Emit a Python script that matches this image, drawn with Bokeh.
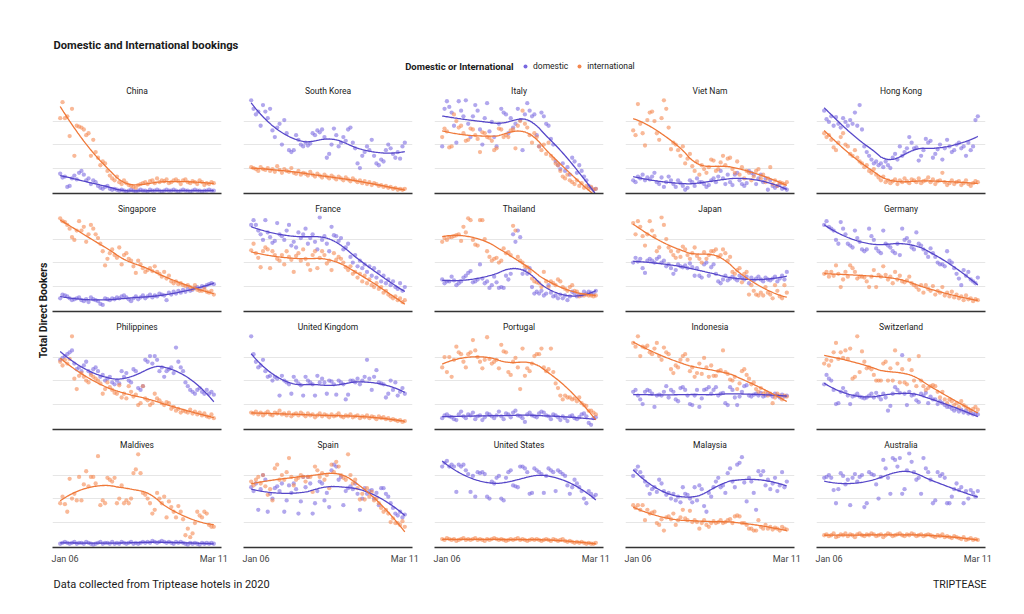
import numpy as np
import pandas as pd
from bokeh.plotting import figure
from bokeh.layouts import column, row
from bokeh.models import Range1d, FixedTicker, Label, Legend, LegendItem
from bokeh.embed import file_html
from bokeh.resources import INLINE

# ---------------- data ----------------
DATES = pd.date_range("2020-01-06", "2020-03-11", freq="D")
TICK_LABELS = ["Jan 06", "Mar 11"]
SERIES_NAMES = ["domestic", "international"]
COUNTRIES = ["China", "South Korea", "Italy", "Viet Nam", "Hong Kong",
             "Singapore", "France", "Thailand", "Japan", "Germany",
             "Philippines", "United Kingdom", "Portugal", "Indonesia", "Switzerland",
             "Maldives", "Spain", "United States", "Malaysia", "Australia"]

CHINA_DOM = [19,15,16,5,6,14,17,13,20,22,18,12,14,8,12,10,6,4,3,5,6,3,2,3,2,1,2,1,0,1,2,1,0,1,2,1,1,0,2,1,1,2,1,0,1,2,1,1,2,1,0,1,2,1,1,0,1,2,1,1,0,1,1,2,1,1]
CHINA_INT = [78,95,78,80,59,88,38,70,69,68,66,60,62,38,55,42,36,28,32,30,22,17,14,12,16,10,8,12,9,7,6,5,4,7,8,9,10,8,11,12,9,14,10,12,11,13,9,10,12,13,11,8,12,13,10,9,11,10,8,12,10,7,9,8,10,9]
SKOREA_DOM = [97,88,82,85,70,92,85,78,88,65,58,68,72,50,76,62,44,42,44,60,55,50,48,52,49,51,62,60,65,63,66,58,36,40,50,67,60,48,52,58,54,66,68,52,46,30,25,38,42,48,44,55,38,30,28,34,32,44,50,46,40,36,42,35,48,52]
SKOREA_INT = [26,25,24,22,26,24,23,25,22,24,21,27,23,20,24,22,21,25,20,19,22,18,20,19,17,21,18,16,19,17,15,18,16,14,17,15,13,16,14,12,15,13,11,14,12,10,12,9,11,8,10,7,9,8,6,7,5,6,4,5,3,4,2,3,2,3]
ITALY_DOM = [48,88,96,90,84,70,52,96,86,80,97,72,58,80,92,86,66,50,78,94,64,74,58,48,72,88,84,82,62,78,68,72,88,76,44,82,94,86,80,82,60,48,84,80,72,70,56,50,32,28,24,30,22,26,18,36,32,20,28,22,16,12,6,4,2,3]
ITALY_INT = [58,67,64,47,48,82,75,68,70,62,54,55,67,66,60,56,42,63,62,58,57,54,44,46,67,66,58,60,58,65,66,46,70,75,86,72,68,60,52,62,58,48,44,50,40,52,38,35,30,28,22,16,14,18,12,10,8,12,6,9,4,6,3,5,2,3]
VIETNAM_DOM = [12,10,16,14,18,12,15,13,16,20,10,8,15,5,10,16,12,8,5,12,9,6,2,4,12,10,6,14,10,10,8,5,7,12,14,10,16,22,14,8,18,10,7,18,20,12,8,6,9,22,20,18,8,14,18,10,14,2,12,6,4,6,8,3,4,2]
VIETNAM_INT = [65,60,93,72,62,49,76,84,85,75,62,55,78,97,88,68,45,52,50,44,38,48,30,35,40,27,22,32,18,28,24,20,26,34,33,22,24,31,38,28,35,36,24,20,32,18,26,14,22,20,12,16,22,24,14,18,10,14,26,8,12,6,10,9,8,10]
HONGKONG_DOM = [86,77,74,80,70,79,72,68,78,74,70,76,72,84,70,92,66,48,42,38,34,30,32,28,30,26,32,28,25,36,40,34,48,38,42,46,58,52,46,47,33,38,44,56,52,54,36,40,45,50,34,46,55,48,42,44,50,52,46,48,38,52,44,48,76,80]
HONGKONG_INT = [62,58,60,55,47,44,52,58,62,50,48,40,38,44,36,32,30,26,28,22,20,24,18,15,12,16,10,12,9,11,13,8,12,10,14,11,9,13,12,10,14,9,11,12,15,10,13,8,11,12,20,10,7,9,12,8,10,11,7,9,12,8,6,9,11,10]
SINGAPORE_DOM = [12,16,15,14,12,10,11,12,13,10,9,11,8,13,11,10,9,6,5,12,11,10,12,11,13,12,14,15,13,11,9,12,14,11,13,15,12,14,16,13,15,14,17,16,15,10,18,16,19,17,20,18,21,19,22,20,21,23,24,22,25,24,26,27,28,27]
SINGAPORE_INT = [97,94,93,90,86,77,74,84,94,84,88,72,80,90,86,80,76,70,62,47,54,60,64,58,55,66,48,58,60,54,52,46,39,52,48,44,40,42,44,41,46,40,38,35,40,33,36,30,28,30,27,28,26,25,26,24,22,26,21,20,20,22,19,18,20,16]
FRANCE_DOM = [90,95,90,84,80,74,95,82,77,71,73,92,80,78,74,84,90,68,72,66,82,76,80,86,70,76,80,72,64,98,74,78,70,62,88,79,78,73,76,64,66,70,56,50,58,46,52,44,48,40,46,36,44,34,40,30,36,28,32,26,30,24,22,28,20,24]
FRANCE_INT = [63,70,60,55,45,62,66,64,44,62,58,54,52,58,48,62,56,53,40,57,60,52,64,54,48,42,58,62,44,55,62,58,49,52,42,60,53,56,54,50,45,42,46,38,40,34,38,30,36,28,32,26,24,28,22,24,18,20,16,14,12,14,10,12,8,10]
THAILAND_DOM = [32,28,30,30,35,31,26,28,30,34,36,39,41,29,30,32,48,33,28,30,23,26,35,29,23,24,23,36,32,38,80,72,84,77,38,42,38,44,24,17,19,17,20,15,17,26,18,14,15,12,16,12,15,10,14,19,17,14,16,15,19,17,19,18,17,20]
THAILAND_INT = [72,76,74,77,77,78,79,80,73,88,82,97,95,74,69,68,95,95,75,62,56,52,54,55,50,52,65,60,61,58,89,84,56,52,50,46,45,40,33,30,29,28,24,40,30,24,30,28,26,32,30,24,22,20,24,26,20,19,14,16,15,16,15,15,14,15]
JAPAN_DOM = [50,55,51,54,44,39,52,54,52,50,54,56,50,52,46,48,44,38,42,48,46,45,47,44,49,45,36,44,36,34,48,50,36,45,48,38,30,28,32,36,31,33,35,33,31,36,34,32,35,28,34,31,33,35,32,30,34,32,31,33,35,30,33,36,32,40]
JAPAN_INT = [92,80,94,88,78,68,80,94,84,78,62,66,98,90,75,66,62,58,55,62,56,67,64,58,54,60,66,57,54,50,61,54,58,62,62,64,56,58,64,60,52,56,40,38,42,44,29,38,40,16,26,20,16,15,18,15,24,18,16,12,26,20,14,12,26,18]
GERMANY_DOM = [90,94,88,86,84,74,70,93,86,80,70,68,66,84,76,72,64,62,64,86,78,74,65,62,60,84,70,68,66,62,60,70,58,86,74,76,72,66,64,82,70,68,64,60,56,65,60,56,50,48,48,46,62,52,50,44,38,33,26,42,36,40,32,30,28,34]
GERMANY_INT = [38,40,35,40,36,47,38,24,32,40,35,47,44,40,33,35,35,34,30,24,35,42,24,37,35,46,37,32,35,28,40,32,36,30,29,31,35,28,26,24,21,26,18,26,22,20,25,16,20,18,24,15,18,14,19,13,16,12,14,10,15,11,12,9,11,10]
PHILIPPINES_DOM = [72,74,76,78,80,82,68,62,64,60,66,70,60,58,62,64,60,54,56,50,52,54,48,46,50,47,60,54,58,50,48,62,60,42,40,44,72,70,76,68,76,72,60,64,54,60,62,64,58,85,70,64,60,48,44,40,38,36,40,42,38,36,40,36,38,35]
PHILIPPINES_INT = [70,66,72,68,73,97,52,41,55,58,54,50,48,56,54,52,50,47,36,41,48,43,40,37,36,45,32,36,31,44,38,33,35,24,26,44,31,29,24,26,36,31,29,26,24,27,26,20,22,18,20,16,18,17,16,19,15,17,14,16,13,15,12,11,14,10]
UK_DOM = [97,78,70,64,66,72,60,54,55,50,54,52,34,55,50,48,46,36,54,50,47,45,34,54,50,48,46,34,55,48,52,48,36,50,49,46,35,50,48,46,30,35,50,50,48,52,46,50,54,72,52,40,54,61,48,47,46,32,36,50,40,48,34,38,42,36]
UK_INT = [16,15,17,14,16,13,15,17,14,13,16,15,18,14,15,13,16,12,14,15,13,16,14,12,15,13,14,11,13,15,12,14,13,11,14,12,13,15,12,11,13,12,14,11,12,13,10,12,11,13,10,12,11,9,12,10,11,9,10,8,9,8,7,8,6,7]
PORTUGAL_DOM = [10,13,14,12,11,9,8,14,17,12,10,14,13,16,9,12,13,8,11,15,14,12,10,13,17,12,9,15,14,11,16,18,13,12,10,6,14,16,13,12,11,15,17,16,13,12,9,14,13,11,8,12,10,7,12,13,10,9,11,14,15,12,5,3,10,11]
PORTUGAL_INT = [64,75,59,75,54,72,86,80,78,70,64,78,80,93,82,75,70,63,72,96,73,68,70,72,63,88,81,80,59,56,70,74,64,41,84,55,63,60,68,76,78,78,84,64,60,62,84,59,47,42,34,30,34,32,32,30,31,28,32,26,24,23,18,18,16,14]
INDONESIA_DOM = [38,40,34,30,25,38,40,39,36,22,34,35,34,38,44,32,40,38,30,28,42,43,40,34,25,24,34,40,22,31,40,41,43,36,40,43,34,36,37,26,24,43,40,32,24,33,38,44,45,34,33,35,36,34,37,33,34,36,35,33,36,34,32,35,33,34]
INDONESIA_INT = [90,86,97,76,86,85,87,80,78,84,90,76,72,85,80,78,62,58,66,64,72,76,78,72,60,64,54,58,68,57,74,64,54,66,55,55,60,61,82,59,57,51,50,54,41,47,60,62,56,52,46,48,41,38,42,36,38,34,36,26,32,36,34,30,34,33]
SWITZERLAND_DOM = [46,56,52,50,40,25,26,38,42,38,34,25,33,34,36,33,32,31,32,34,36,32,37,33,30,36,32,18,23,36,43,40,37,77,36,24,38,34,35,29,27,36,34,37,26,33,30,30,25,28,26,24,22,22,20,18,20,17,19,16,18,15,16,14,15,14]
SWITZERLAND_INT = [68,72,66,71,80,90,73,80,74,82,73,84,52,54,97,59,81,70,63,64,62,56,50,50,50,68,70,50,63,50,82,68,48,62,48,46,72,61,50,44,76,50,44,40,42,44,45,44,38,32,38,30,26,30,28,24,26,22,28,24,22,20,18,20,22,19]
MALDIVES_DOM = [2,3,4,3,2,3,4,2,3,3,2,4,3,2,1,2,3,4,2,3,3,2,4,2,3,2,4,3,2,3,4,2,3,2,3,4,3,4,3,5,4,3,4,5,4,3,4,3,2,4,3,4,3,2,1,3,2,3,2,1,3,2,3,2,3,2]
MALDIVES_INT = [45,52,44,36,71,50,55,48,73,48,65,79,63,73,73,66,95,43,48,45,72,70,68,72,45,50,64,45,48,45,50,77,81,97,77,56,54,50,45,34,38,56,50,45,52,30,47,41,36,30,42,36,28,11,18,9,13,24,36,32,30,36,34,22,20,20]
SPAIN_DOM = [62,58,66,38,60,75,70,36,55,50,61,63,58,66,36,48,64,56,66,60,34,47,73,62,73,66,34,45,58,68,66,48,56,41,80,86,84,70,73,43,58,61,63,60,66,55,38,50,61,55,58,59,50,56,43,61,61,55,52,45,40,34,32,36,30,33]
SPAIN_INT = [68,64,70,73,66,75,63,54,60,48,82,86,70,75,70,78,93,73,64,70,72,75,73,68,73,73,57,84,80,73,77,70,75,61,86,78,89,84,75,72,70,97,75,66,70,61,49,55,49,61,52,57,48,50,45,40,36,38,34,25,29,24,24,22,26,20]
USA_DOM = [84,88,90,84,86,84,57,86,84,86,80,76,57,74,52,78,77,78,76,52,50,68,66,72,74,50,48,72,78,80,64,63,62,84,84,82,78,55,56,82,80,78,76,56,74,82,80,78,58,80,78,76,74,64,55,62,70,66,62,58,50,45,58,55,52,54]
USA_INT = [7,6,8,7,6,7,5,6,7,8,6,7,6,7,8,6,7,6,5,7,6,7,8,7,6,7,6,5,6,7,6,7,8,6,7,6,5,6,7,6,7,6,5,6,7,6,5,7,6,5,6,7,5,4,5,4,3,4,3,4,3,2,3,2,2,3]
MALAYSIA_DOM = [74,80,84,78,73,68,64,55,60,62,57,70,66,58,54,56,50,55,48,52,46,62,55,54,50,46,62,48,64,60,42,36,56,52,62,68,72,62,64,56,77,82,68,62,86,88,94,67,47,72,68,56,38,79,75,79,64,70,60,66,72,58,64,78,62,68]
MALAYSIA_INT = [43,40,43,38,43,27,38,34,35,36,24,22,28,16,30,31,28,34,22,27,30,38,29,27,37,25,27,25,18,24,27,22,20,24,26,24,25,27,24,25,27,28,24,31,32,31,24,24,22,18,18,16,16,27,20,18,22,18,20,17,19,18,16,20,18,17]
AUSTRALIA_DOM = [72,73,75,72,59,45,60,77,74,65,70,43,72,76,68,73,75,41,45,78,76,75,65,50,73,91,82,72,55,93,91,84,93,55,60,80,98,89,78,70,72,55,93,82,78,70,45,48,78,74,76,72,45,45,52,60,66,59,62,45,58,50,59,56,52,58]
AUSTRALIA_INT = [11,12,10,11,13,9,10,12,11,13,10,12,11,9,12,13,11,10,12,11,13,12,10,11,12,9,11,13,12,10,11,12,13,11,10,12,11,13,12,10,11,12,10,11,12,11,10,9,11,10,12,9,10,9,8,10,9,8,7,9,6,7,8,6,7,6]

PANEL_DATA = [
    (CHINA_DOM, CHINA_INT), (SKOREA_DOM, SKOREA_INT), (ITALY_DOM, ITALY_INT),
    (VIETNAM_DOM, VIETNAM_INT), (HONGKONG_DOM, HONGKONG_INT),
    (SINGAPORE_DOM, SINGAPORE_INT), (FRANCE_DOM, FRANCE_INT), (THAILAND_DOM, THAILAND_INT),
    (JAPAN_DOM, JAPAN_INT), (GERMANY_DOM, GERMANY_INT),
    (PHILIPPINES_DOM, PHILIPPINES_INT), (UK_DOM, UK_INT), (PORTUGAL_DOM, PORTUGAL_INT),
    (INDONESIA_DOM, INDONESIA_INT), (SWITZERLAND_DOM, SWITZERLAND_INT),
    (MALDIVES_DOM, MALDIVES_INT), (SPAIN_DOM, SPAIN_INT), (USA_DOM, USA_INT),
    (MALAYSIA_DOM, MALAYSIA_INT), (AUSTRALIA_DOM, AUSTRALIA_INT),
]

# ---------------- styling ----------------
FONT = "Roboto"
PURPLE_PT, PURPLE_LN = "#7868e0", "#5546c8"
ORANGE_PT, ORANGE_LN = "#f4874e", "#ef7838"
TEXT = "#1a1a1a"
PANEL_W, PANEL_H, LAST_H = 191, 118, 135
YLAB_W, HEADER_H, FOOTER_H = 51, 80, 30


def loess(x, y, xs, span=0.75):
    x = np.asarray(x, float)
    y = np.asarray(y, float)
    n = len(x)
    k = max(3, int(np.floor(span * n)))
    out = []
    for x0 in xs:
        d = np.abs(x - x0)
        h = np.sort(d)[k - 1]
        w = np.clip(1 - (d / h) ** 3, 0, None) ** 3
        X = np.vstack([np.ones(n), x - x0, (x - x0) ** 2]).T
        A = X.T @ (w[:, None] * X)
        b = X.T @ (w * y)
        out.append(np.linalg.solve(A, b)[0])
    return np.array(out)


n_days = len(DATES)
last_day = n_days - 1
pad = 0.05 * last_day


def make_panel(name, dom, intl, bottom):
    h = LAST_H if bottom else PANEL_H
    p = figure(width=PANEL_W, height=h, title=name,
               x_range=Range1d(-pad, last_day + pad), y_range=Range1d(-2, 100),
               toolbar_location=None, output_backend="svg",
               min_border_left=1, min_border_right=21, min_border_top=17,
               min_border_bottom=22 if bottom else 5)
    p.outline_line_color = None
    p.background_fill_color = "white"
    p.border_fill_color = "white"
    p.title.align = "center"
    p.title.text_font = FONT
    p.title.text_font_size = "8.5px"
    p.title.text_font_style = "normal"
    p.title.text_color = TEXT
    p.title.standoff = 3
    p.yaxis.visible = False
    p.yaxis.ticker = FixedTicker(ticks=[25, 50, 75])
    p.xgrid.visible = False
    p.ygrid.grid_line_color = "#e6e6e6"
    p.ygrid.grid_line_width = 1
    ax = p.xaxis[0]
    ax.axis_line_color = "#333333"
    ax.axis_line_width = 1.6
    ax.major_tick_line_color = None
    ax.minor_tick_line_color = None
    if bottom:
        ax.ticker = FixedTicker(ticks=[0, last_day])
        ax.major_label_overrides = {0: TICK_LABELS[0], last_day: TICK_LABELS[1]}
        ax.major_label_text_font = FONT
        ax.major_label_text_font_size = "9px"
        ax.major_label_text_color = "#444444"
        ax.major_label_standoff = 0
    else:
        ax.ticker = FixedTicker(ticks=[])
    xs = np.linspace(0, last_day, 131)
    for vals, pc in ((dom, PURPLE_PT), (intl, ORANGE_PT)):
        x = np.arange(len(vals))
        p.scatter(x, vals, size=4.3, fill_color=pc, line_color=None, fill_alpha=0.58)
    for vals, lc in ((dom, PURPLE_LN), (intl, ORANGE_LN)):
        x = np.arange(len(vals))
        p.line(xs, loess(x, vals, xs), line_color=lc, line_width=1.3)
    return p


rows = []
for r in range(4):
    figs = []
    for c in range(5):
        i = r * 5 + c
        dom, intl = PANEL_DATA[i]
        figs.append(make_panel(COUNTRIES[i], dom, intl, bottom=(r == 3)))
    rows.append(row(*figs))
grid = column(*rows)
grid_h = 3 * PANEL_H + LAST_H
total_w = YLAB_W + 5 * PANEL_W


def blank(width, height):
    f = figure(width=width, height=height, x_range=Range1d(0, width), y_range=Range1d(0, height),
               toolbar_location=None, output_backend="svg", min_border=0,
               x_axis_location=None, y_axis_location=None)
    f.outline_line_color = None
    f.grid.visible = False
    f.background_fill_color = "white"
    f.border_fill_color = "white"
    return f


# header: title + legend
header = blank(total_w, HEADER_H)
header.add_layout(Label(x=53, y=35, x_units="screen", y_units="screen",
                        text="Domestic and International bookings", text_font=FONT,
                        text_font_size="11.2px", text_font_style="bold", text_color=TEXT,
                        text_baseline="middle"))
header.add_layout(Label(x=513, y=14, x_units="screen", y_units="screen",
                        text="Domestic or International", text_font=FONT,
                        text_font_size="9.5px", text_font_style="bold", text_color=TEXT,
                        text_align="right", text_baseline="middle"))
r_dom = header.scatter(x=np.array([np.nan]), y=np.array([np.nan]), size=5,
                       fill_color=PURPLE_PT, line_color=None)
r_int = header.scatter(x=np.array([np.nan]), y=np.array([np.nan]), size=5,
                       fill_color=ORANGE_PT, line_color=None)
leg = Legend(items=[LegendItem(label=SERIES_NAMES[0], renderers=[r_dom]),
                    LegendItem(label=SERIES_NAMES[1], renderers=[r_int])],
             orientation="horizontal", location=(520, 8), border_line_color=None,
             background_fill_alpha=0, padding=0, margin=0, spacing=6,
             glyph_width=10, glyph_height=12, label_standoff=3,
             label_text_font=FONT, label_text_font_size="8.5px", label_text_color=TEXT)
header.add_layout(leg)

# y label
ylab = blank(YLAB_W, grid_h)
ylab.add_layout(Label(x=43, y=259, x_units="screen", y_units="screen",
                      text="Total Direct Bookers", angle=np.pi / 2, text_font=FONT,
                      text_font_size="10.5px", text_font_style="bold", text_color=TEXT,
                      text_align="center", text_baseline="middle"))

# footer
footer = blank(total_w, FOOTER_H)
footer.add_layout(Label(x=53, y=15, x_units="screen", y_units="screen",
                        text="Data collected from Triptease hotels in 2020", text_font=FONT,
                        text_font_size="11px", text_color=TEXT, text_baseline="middle"))
footer.add_layout(Label(x=986, y=15, x_units="screen", y_units="screen",
                        text="TRIPTEASE", text_font=FONT, text_font_size="10.5px",
                        text_color=TEXT, text_align="right", text_baseline="middle"))

layout = column(header, row(ylab, grid), footer)
open("out.html", "w").write(file_html(layout, INLINE))
